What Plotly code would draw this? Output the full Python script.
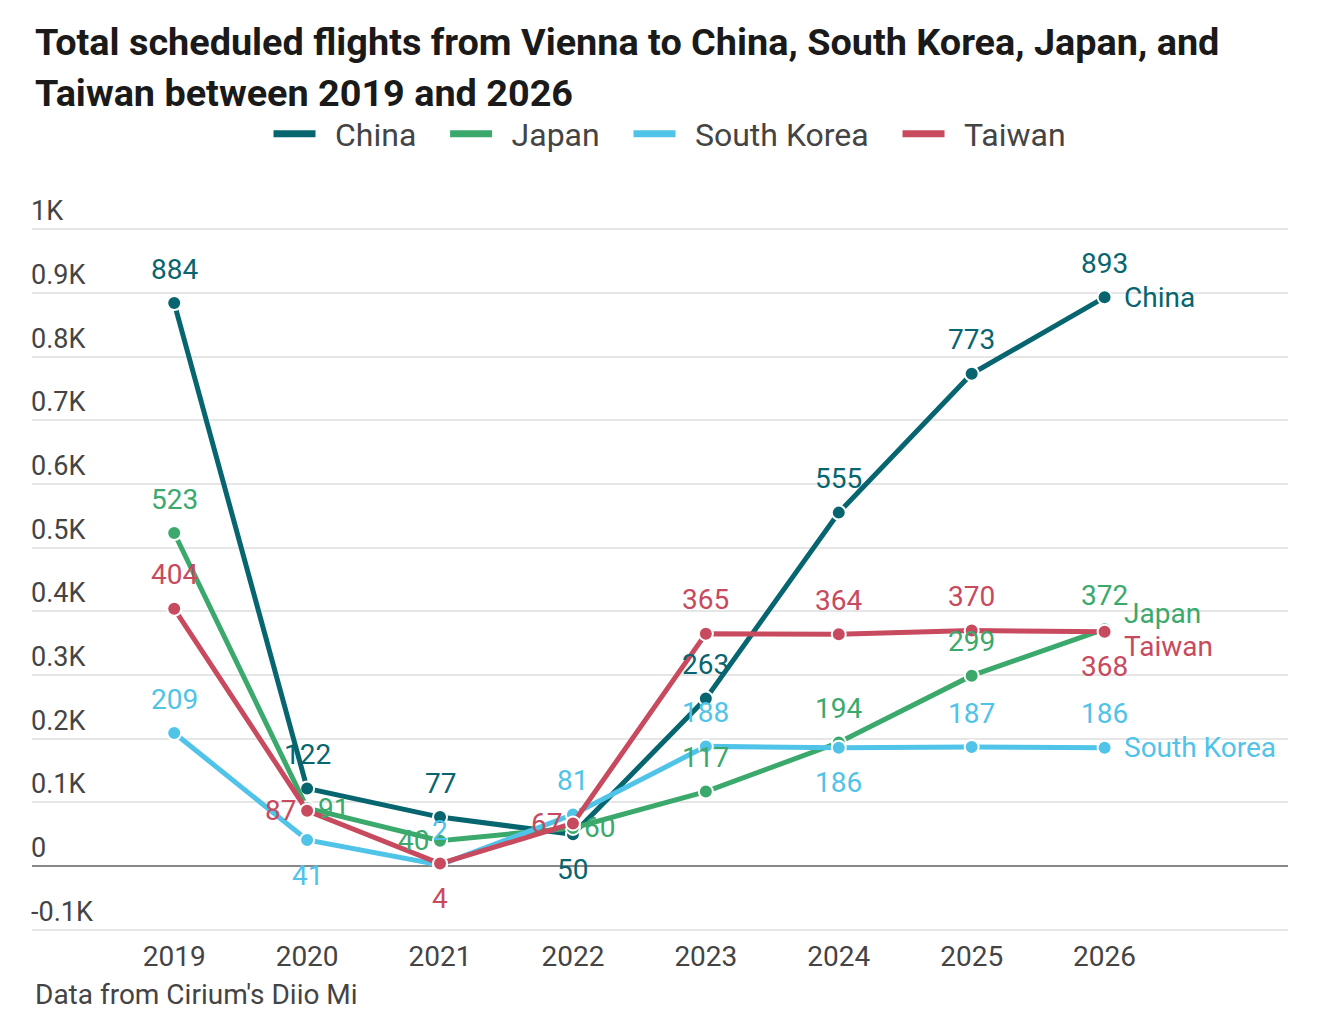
import plotly.graph_objects as go

years = [2019, 2020, 2021, 2022, 2023, 2024, 2025, 2026]
series_names = ["China", "Japan", "South Korea", "Taiwan"]
china = [884, 122, 77, 50, 263, 555, 773, 893]
japan = [523, 91, 40, 60, 117, 194, 299, 372]
south_korea = [209, 41, 2, 81, 188, 186, 187, 186]
taiwan = [404, 87, 4, 67, 365, 364, 370, 368]
y_tick_vals = [-100, 0, 100, 200, 300, 400, 500, 600, 700, 800, 900, 1000]
y_tick_text = ["-0.1K", "0", "0.1K", "0.2K", "0.3K", "0.4K", "0.5K", "0.6K", "0.7K", "0.8K", "0.9K", "1K"]

values = {"China": china, "Japan": japan, "South Korea": south_korea, "Taiwan": taiwan}
colors = {"China": "#07656f", "Japan": "#3aa96b", "South Korea": "#50c3e8", "Taiwan": "#c84a5e"}
# label placement per point: u=above, d=below, l=left, r=right
label_pos = {
    "China": ["u", "u", "u", "d", "u", "u", "u", "u"],
    "Japan": ["u", "r", "l", "r", "u", "u", "u", "u"],
    "South Korea": ["u", "d", "u", "u", "u", "d", "u", "u"],
    "Taiwan": ["u", "l", "d", "l", "u", "u", "u", "d"],
}
end_shift = {"China": 0, "Japan": 16, "South Korea": 0, "Taiwan": -15}
legend_pad = {"China": 3, "Japan": 3, "South Korea": 3, "Taiwan": 0}

FONT = "Roboto"
NB = "\u00a0"
TS = "\u2009"
# y range padded slightly so the edge gridlines are drawn
Y0, Y1 = -105, 1005
PX_PER_UNIT = 701 / 1100
PT = round(221 - 5 * PX_PER_UNIT)
PB = round(98 - 5 * PX_PER_UNIT)
PL, PR = 24, 40
plot_w = 1320 - PL - PR
plot_h = 1020 - PT - PB
bot_px = 8 + PT + plot_h  # page y of plot bottom

def page_y_to_domain(py):
    return (bot_px - py) / plot_h

fig = go.Figure()
annotations = []
for name in series_names:
    c = colors[name]
    fig.add_trace(go.Scatter(
        x=years, y=values[name], name=name, mode="lines+markers", showlegend=False,
        line=dict(color=c, width=5),
        marker=dict(size=14, color=c, line=dict(color="white", width=2)),
    ))
    for xv, yv, p in zip(years, values[name], label_pos[name]):
        a = dict(x=xv, y=yv, xref="x", yref="y", text=str(yv), showarrow=False,
                 font=dict(family=FONT, size=28, color=c), yanchor="middle")
        if p == "u":
            a.update(xanchor="center", yshift=34)
        elif p == "d":
            a.update(xanchor="center", yshift=-35)
        elif p == "l":
            a.update(xanchor="right", xshift=-9)
        else:
            a.update(xanchor="left", xshift=9)
        annotations.append(a)
    annotations.append(dict(x=years[-1], y=values[name][-1], xref="x", yref="y",
                            text=name, showarrow=False, xanchor="left", yanchor="middle",
                            xshift=17, yshift=end_shift[name],
                            font=dict(family=FONT, size=28, color=c)))

# legend-only entries (line sample without markers)
for name in series_names:
    fig.add_trace(go.Scatter(x=[None], y=[None], name=NB + TS + name + NB * legend_pad[name],
                             mode="lines", line=dict(color=colors[name], width=7),
                             showlegend=True))

for v, t in zip(y_tick_vals, y_tick_text):
    annotations.append(dict(x=0, xref="paper", y=v, yref="y", text=t, showarrow=False,
                            xanchor="left", yanchor="middle", yshift=18, xshift=-3,
                            font=dict(family=FONT, size=27, color="#444")))

title_lines = ["Total scheduled flights from Vienna to China, South Korea, Japan, and",
               "Taiwan between 2019 and 2026"]
for i, line in enumerate(title_lines):
    annotations.append(dict(x=0, xref="x domain", xanchor="left", xshift=1,
                            y=page_y_to_domain(42 + 51 * i), yref="y domain", yanchor="middle",
                            text="<b>" + line + "</b>", showarrow=False,
                            font=dict(family=FONT, size=37.8, color="#1a1a1a")))
annotations.append(dict(x=0, xref="x domain", xanchor="left", xshift=1,
                        y=page_y_to_domain(994), yref="y domain", yanchor="middle",
                        text="Data from Cirium's Diio Mi", showarrow=False,
                        font=dict(family=FONT, size=28, color="#444")))

fig.update_layout(
    width=1320, height=1020,
    margin=dict(l=PL, r=PR, t=PT, b=PB),
    paper_bgcolor="white", plot_bgcolor="white",
    font=dict(family=FONT, color="#444"),
    showlegend=True,
    legend=dict(orientation="h", x=0.5 + 10 / plot_w, xanchor="center", y=page_y_to_domain(134),
                yanchor="middle", font=dict(family=FONT, size=32, color="#444"),
                itemwidth=42, bgcolor="rgba(0,0,0,0)"),
    xaxis=dict(range=[2017.93, 2027.38], tickvals=years, ticktext=[str(y) for y in years],
               showgrid=False, zeroline=False, showline=False, ticks="",
               tickfont=dict(family=FONT, size=28, color="#444"), ticklabelstandoff=4),
    yaxis=dict(range=[Y0, Y1], tickvals=y_tick_vals, showticklabels=False,
               showgrid=True, gridcolor="#e6e6e6", gridwidth=1.5,
               zeroline=True, zerolinecolor="#888", zerolinewidth=2, showline=False),
    annotations=annotations,
    hovermode=False,
)
fig.write_html("out.html")
